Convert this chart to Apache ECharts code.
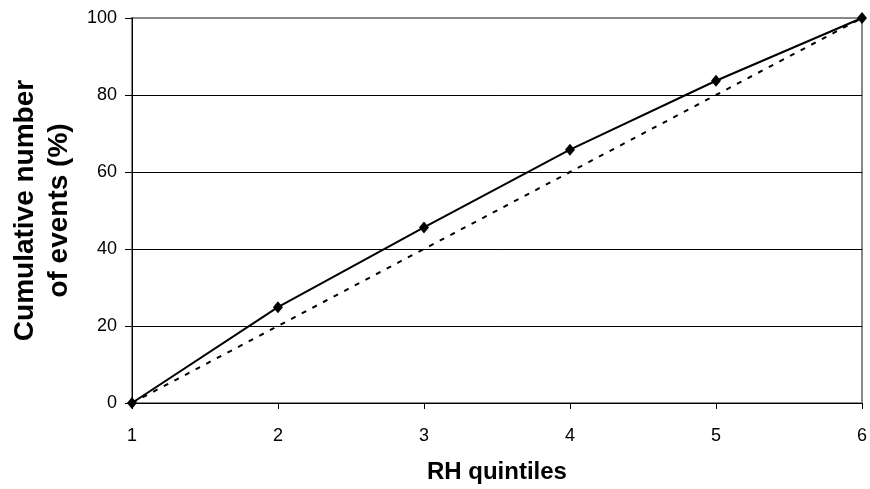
<!DOCTYPE html>
<html><head><meta charset="utf-8">
<script src="https://cdn.jsdelivr.net/npm/echarts@6/dist/echarts.min.js"></script>
<style>html,body{margin:0;padding:0;background:#fff}#c{width:870px;height:489px}</style>
</head><body><div id="c"></div>
<script>
const quintiles = [1, 2, 3, 4, 5, 6];
const observed = [0, 24.9, 45.6, 65.8, 83.7, 100];
const expected = [0, 20, 40, 60, 80, 100];
const yTicks = [0, 20, 40, 60, 80, 100];

const chart = echarts.init(document.getElementById('c'));
const font = 'Liberation Sans, Arial, sans-serif';
chart.setOption({
  animation: false,
  grid: {left: 128, right: 8, top: 18, bottom: 85, show: true, borderColor: '#888', borderWidth: 2},
  xAxis: {
    type: 'value', min: 1, max: 6, interval: 1,
    name: 'RH quintiles', nameLocation: 'middle', nameGap: 57,
    nameTextStyle: {fontFamily: font, fontSize: 24, fontWeight: 'bold', color: '#000'},
    axisLine: {show: true, lineStyle: {color: '#000', width: 1}},
    axisTick: {show: true, inside: false, length: 6, lineStyle: {color: '#000'}},
    axisLabel: {fontFamily: font, fontSize: 18, color: '#000', margin: 24},
    splitLine: {show: false}
  },
  yAxis: {
    type: 'value', min: 0, max: 100, interval: 20,
    name: 'Cumulative number\nof events (%)', nameLocation: 'middle', nameGap: 54,
    nameTextStyle: {fontFamily: font, fontSize: 28, fontWeight: 'bold', color: '#000', lineHeight: 34},
    axisLine: {show: true, lineStyle: {color: '#000', width: 1}},
    axisTick: {show: true, inside: false, length: 7, lineStyle: {color: '#000'}},
    axisLabel: {fontFamily: font, fontSize: 18, color: '#000', margin: 15},
    splitLine: {show: true, lineStyle: {color: ['#000', '#000', '#000', '#000', '#000', '#888'], width: 1}}
  },
  series: [
    {
      type: 'line', data: quintiles.map((q, i) => [q, expected[i]]),
      symbol: 'none', lineStyle: {color: '#000', width: 2, type: [5, 7]}, z: 2
    },
    {
      type: 'line', data: quintiles.map((q, i) => [q, observed[i]]),
      symbol: 'diamond', symbolSize: [10, 12], itemStyle: {color: '#000'},
      lineStyle: {color: '#000', width: 2}, z: 3
    }
  ]
});
</script></body></html>
